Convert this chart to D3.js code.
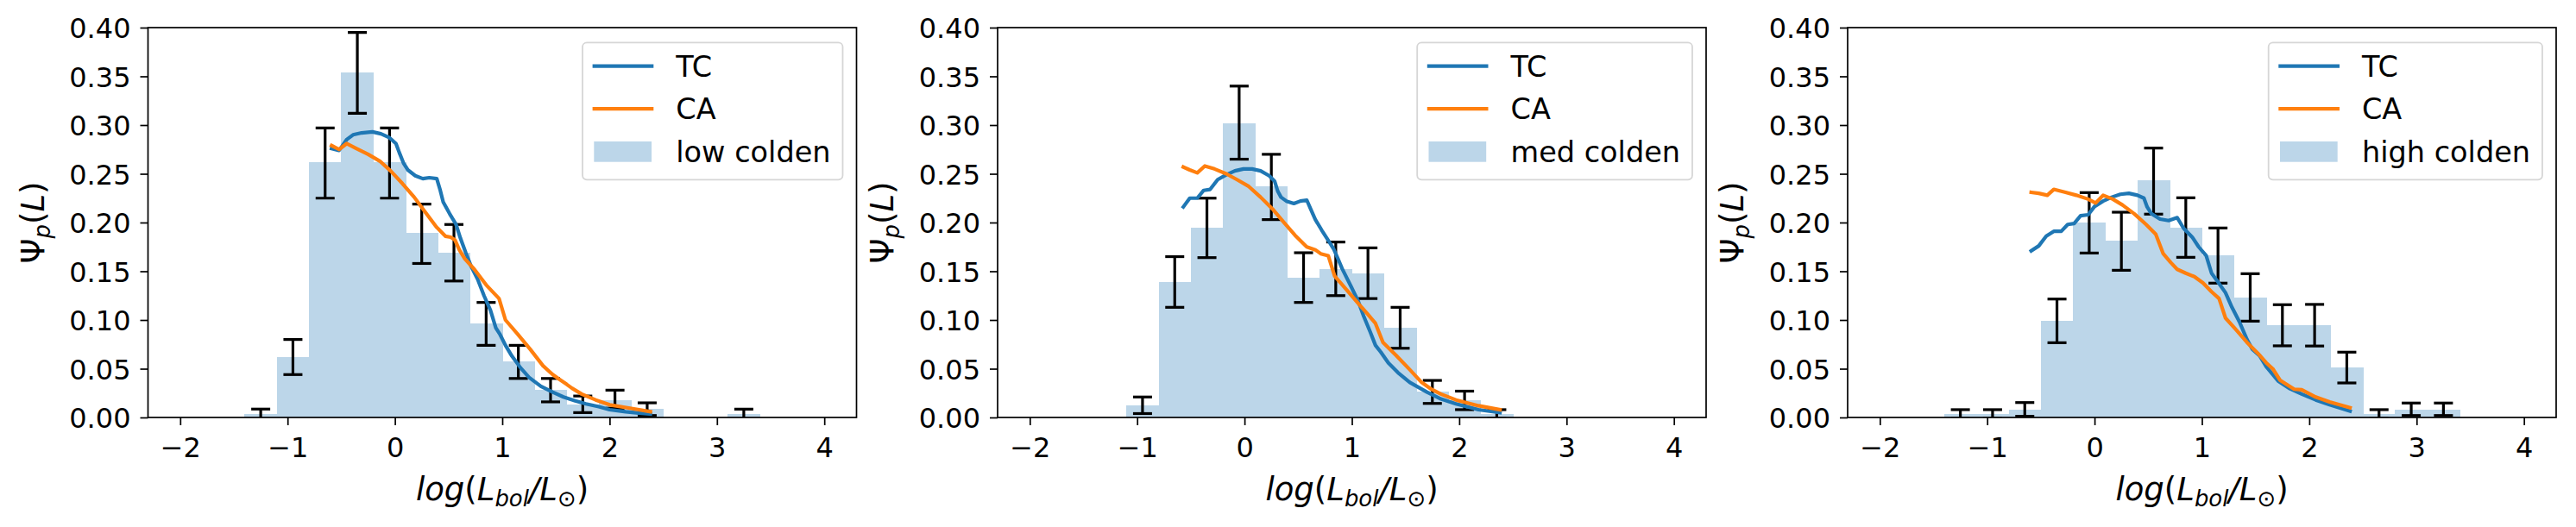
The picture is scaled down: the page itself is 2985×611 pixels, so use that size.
<!DOCTYPE html>
<html><head><meta charset="utf-8">
<script src="https://cdn.jsdelivr.net/npm/d3@7"></script>
<style>
body{margin:0;background:#fff}
svg{display:block}
text{font-family:"DejaVu Sans",sans-serif;fill:#000}
</style>
</head><body>
<svg id="c" width="2985" height="611"></svg>
<script>
// ---------------- DATA ----------------
const binLefts = [-1.4,-1.1,-0.8,-0.5,-0.2,0.1,0.4,0.7,1.0,1.3,1.6,1.9,2.2,2.5,2.8,3.1];
const binWidth = 0.3;
const xTicks = [-2,-1,0,1,2,3,4];
const yTicks = [0.00,0.05,0.10,0.15,0.20,0.25,0.30,0.35,0.40];
const seriesNames = ["TC","CA"];
const panelNames = ["low colden","med colden","high colden"];

// histogram heights
const lowHist  = [0.0035,0.062,0.262,0.354,0.262,0.189,0.169,0.0965,0.0575,0.0285,0.013,0.018,0.0088,0,0,0.0035];
const medHist  = [0,0.0124,0.139,0.195,0.3015,0.237,0.1434,0.1525,0.1475,0.092,0.0265,0.0177,0.0035,0,0,0];
const highHist = [0.0035,0.0035,0.008,0.0994,0.1997,0.1811,0.2431,0.1947,0.1664,0.123,0.095,0.0948,0.0513,0.0035,0.008,0.008];

// error bar lower / upper ends (null = no error bar)
const lowErrLo  = [-0.0016,0.044,0.225,0.312,0.225,0.158,0.140,0.074,0.040,0.016,0.005,0.0095,0.002,null,null,-0.0016];
const lowErrHi  = [0.0086,0.080,0.297,0.395,0.297,0.219,0.198,0.118,0.074,0.040,0.022,0.028,0.015,null,null,0.0086];
const medErrLo  = [null,0.004,0.113,0.164,0.265,0.203,0.118,0.125,0.122,0.071,0.0144,0.008,-0.001,null,null,null];
const medErrHi  = [null,0.021,0.165,0.225,0.340,0.270,0.169,0.180,0.174,0.113,0.038,0.027,0.008,null,null,null];
const highErrLo = [-0.001,-0.001,0.0012,0.0767,0.1687,0.151,0.2086,0.1643,0.1378,0.0988,0.0735,0.0733,0.0354,-0.001,0.002,0.002];
const highErrHi = [0.008,0.008,0.0153,0.1215,0.2307,0.2106,0.2764,0.2254,0.1944,0.1475,0.1157,0.116,0.067,0.008,0.0148,0.0148];

// model curves [logL, Psi]
const lowTC = [[-0.59,0.276],[-0.52,0.274],[-0.45,0.285],[-0.39,0.290],[-0.31,0.292],[-0.21,0.293],[-0.13,0.291],[-0.05,0.287],[0.01,0.281],[0.04,0.272],[0.08,0.261],[0.12,0.254],[0.19,0.248],[0.26,0.245],[0.32,0.246],[0.39,0.245],[0.42,0.234],[0.45,0.221],[0.51,0.209],[0.57,0.198],[0.61,0.184],[0.66,0.169],[0.71,0.155],[0.77,0.142],[0.83,0.125],[0.89,0.110],[0.94,0.092],[0.98,0.085],[1.03,0.074],[1.09,0.063],[1.17,0.051],[1.25,0.041],[1.36,0.032],[1.47,0.026],[1.57,0.021],[1.68,0.017],[1.78,0.014],[1.90,0.011],[2.00,0.008],[2.15,0.0058],[2.27,0.0045],[2.38,0.0035]];
const lowCA = [[-0.59,0.279],[-0.52,0.275],[-0.45,0.281],[-0.36,0.276],[-0.25,0.270],[-0.14,0.263],[-0.04,0.253],[0.07,0.240],[0.18,0.226],[0.28,0.211],[0.39,0.195],[0.47,0.186],[0.52,0.185],[0.56,0.182],[0.60,0.172],[0.65,0.163],[0.74,0.152],[0.85,0.136],[0.97,0.122],[1.03,0.100],[1.14,0.086],[1.26,0.070],[1.38,0.053],[1.47,0.044],[1.52,0.040],[1.60,0.034],[1.65,0.030],[1.74,0.024],[1.87,0.018],[2.00,0.013],[2.19,0.0095],[2.38,0.006]];
const medTC = [[-0.57,0.216],[-0.51,0.225],[-0.44,0.225],[-0.38,0.233],[-0.32,0.234],[-0.25,0.244],[-0.17,0.249],[-0.09,0.253],[-0.01,0.255],[0.07,0.255],[0.15,0.253],[0.23,0.248],[0.28,0.2425],[0.31,0.232],[0.34,0.226],[0.39,0.222],[0.46,0.2195],[0.52,0.222],[0.58,0.223],[0.62,0.213],[0.66,0.203],[0.72,0.192],[0.79,0.180],[0.83,0.173],[0.87,0.163],[0.91,0.1525],[0.99,0.135],[1.06,0.119],[1.11,0.104],[1.17,0.088],[1.22,0.074],[1.27,0.067],[1.34,0.056],[1.43,0.046],[1.54,0.036],[1.70,0.026],[1.83,0.019],[1.97,0.014],[2.18,0.008],[2.38,0.005]];
const medCA = [[-0.57,0.257],[-0.51,0.254],[-0.44,0.251],[-0.37,0.258],[-0.28,0.255],[-0.17,0.250],[-0.07,0.244],[0.04,0.237],[0.15,0.226],[0.26,0.214],[0.36,0.201],[0.47,0.187],[0.58,0.175],[0.66,0.172],[0.71,0.168],[0.78,0.166],[0.84,0.145],[0.95,0.131],[1.06,0.117],[1.14,0.107],[1.22,0.0965],[1.29,0.077],[1.41,0.064],[1.54,0.049],[1.65,0.036],[1.74,0.029],[1.83,0.024],[1.97,0.018],[2.18,0.012],[2.38,0.008]];
const highTC = [[-0.59,0.171],[-0.52,0.176],[-0.45,0.186],[-0.38,0.191],[-0.31,0.191],[-0.25,0.198],[-0.19,0.199],[-0.13,0.207],[-0.06,0.208],[0.00,0.2165],[0.08,0.222],[0.16,0.226],[0.24,0.229],[0.32,0.230],[0.40,0.228],[0.46,0.225],[0.49,0.216],[0.53,0.209],[0.61,0.2035],[0.69,0.202],[0.77,0.205],[0.83,0.194],[0.91,0.185],[0.97,0.175],[1.04,0.166],[1.09,0.148],[1.15,0.139],[1.22,0.128],[1.28,0.113],[1.35,0.098],[1.42,0.080],[1.47,0.070],[1.54,0.063],[1.60,0.052],[1.71,0.0375],[1.82,0.0295],[1.93,0.024],[2.06,0.018],[2.19,0.013],[2.38,0.0065]];
const highCA = [[-0.59,0.231],[-0.52,0.230],[-0.44,0.228],[-0.38,0.234],[-0.27,0.231],[-0.17,0.228],[-0.06,0.224],[0.01,0.220],[0.08,0.228],[0.17,0.224],[0.26,0.218],[0.37,0.209],[0.48,0.198],[0.57,0.188],[0.64,0.168],[0.71,0.159],[0.77,0.152],[0.85,0.148],[0.93,0.1445],[1.01,0.138],[1.09,0.129],[1.16,0.122],[1.22,0.102],[1.31,0.091],[1.42,0.077],[1.52,0.066],[1.60,0.056],[1.66,0.050],[1.73,0.038],[1.86,0.029],[1.93,0.0285],[2.06,0.021],[2.19,0.016],[2.38,0.010]];

// ---------------- LAYOUT ----------------
const panels = [
  {name: panelNames[0], hist: lowHist,  lo: lowErrLo,  hi: lowErrHi,  tc: lowTC,  ca: lowCA},
  {name: panelNames[1], hist: medHist,  lo: medErrLo,  hi: medErrHi,  tc: medTC,  ca: medCA},
  {name: panelNames[2], hist: highHist, lo: highErrLo, hi: highErrHi, tc: highTC, ca: highCA}
];
const panelLefts = [171.5, 1156, 2141];
const W = 821, TOP = 32, BOTTOM = 484;
const colors = {TC: "#1f77b4", CA: "#ff7f0e", bar: "rgb(188,214,233)"};
const tickFont = 32, labelFont = 37, legendFont = 33.5;

const svg = d3.select("#c");

panels.forEach((p, i) => {
  const L = panelLefts[i];
  const x = d3.scaleLinear().domain([-2.3, 4.3]).range([L, L + W]);
  const y = d3.scaleLinear().domain([0, 0.4]).range([BOTTOM, TOP]);
  const g = svg.append("g");
  const clipId = "clip" + i;
  svg.append("clipPath").attr("id", clipId).append("rect")
    .attr("x", L).attr("y", TOP).attr("width", W).attr("height", BOTTOM - TOP);
  const plot = g.append("g").attr("clip-path", `url(#${clipId})`);

  // bars
  plot.selectAll("rect.bar").data(binLefts.map((b, k) => ({b, h: p.hist[k]})).filter(d => d.h > 0))
    .enter().append("rect")
    .attr("x", d => x(d.b)).attr("width", d => x(d.b + binWidth) - x(d.b) + 0.6)
    .attr("y", d => y(d.h)).attr("height", d => y(0) - y(d.h))
    .attr("fill", colors.bar).attr("shape-rendering", "crispEdges");

  // error bars
  const errs = binLefts.map((b, k) => ({c: b + binWidth / 2, lo: p.lo[k], hi: p.hi[k]})).filter(d => d.lo !== null);
  const eg = plot.append("g").attr("stroke", "#000").attr("stroke-width", 3.2).attr("fill", "none");
  errs.forEach(d => {
    const cx = x(d.c);
    eg.append("line").attr("x1", cx).attr("x2", cx).attr("y1", y(d.lo)).attr("y2", y(d.hi));
    eg.append("line").attr("x1", cx - 11).attr("x2", cx + 11).attr("y1", y(d.lo)).attr("y2", y(d.lo));
    eg.append("line").attr("x1", cx - 11).attr("x2", cx + 11).attr("y1", y(d.hi)).attr("y2", y(d.hi));
  });

  // lines
  const line = d3.line().x(d => x(d[0])).y(d => y(d[1]));
  [["TC", p.tc], ["CA", p.ca]].forEach(([n, data]) => {
    plot.append("path").attr("d", line(data)).attr("fill", "none")
      .attr("stroke", colors[n]).attr("stroke-width", 4.2)
      .attr("stroke-linejoin", "round").attr("stroke-linecap", "square");
  });

  // axes
  const xAxis = d3.axisBottom(x).tickValues(xTicks).tickSize(9).tickPadding(12)
    .tickFormat(d => d < 0 ? "\u2212" + Math.abs(d) : String(d));
  const gx = g.append("g").attr("transform", `translate(0,${BOTTOM})`).call(xAxis);
  const yAxis = d3.axisLeft(y).tickValues(yTicks).tickSize(9).tickPadding(11).tickFormat(d3.format(".2f"));
  const gy = g.append("g").attr("transform", `translate(${L},0)`).call(yAxis);
  [gx, gy].forEach(a => {
    a.select(".domain").remove();
    a.selectAll(".tick line").attr("stroke", "#000").attr("stroke-width", 1.7);
    a.selectAll(".tick text").attr("font-size", tickFont).attr("font-family", "DejaVu Sans").attr("fill", "#000");
  });
  gx.selectAll(".tick text").attr("dy", null).attr("y", 46);
  gy.selectAll(".tick text").attr("dy", "0.36em");

  // frame
  g.append("rect").attr("x", L).attr("y", TOP).attr("width", W).attr("height", BOTTOM - TOP)
    .attr("fill", "none").attr("stroke", "#000").attr("stroke-width", 1.7);

  // x label: log(L_bol/L_sun)
  const xl = g.append("text").attr("x", L + W / 2).attr("y", 580)
    .attr("text-anchor", "middle").attr("font-size", labelFont);
  xl.append("tspan").attr("font-style", "italic").text("log");
  xl.append("tspan").text("(");
  xl.append("tspan").attr("font-style", "italic").text("L");
  xl.append("tspan").attr("font-style", "italic").attr("font-size", labelFont * 0.7).attr("dy", 7).text("bol");
  xl.append("tspan").attr("font-style", "italic").attr("dy", -7).text("/L");
  xl.append("tspan").attr("font-size", labelFont * 0.7).attr("dy", 7).text("\u2299");
  xl.append("tspan").attr("dy", -7).text(")");

  // y label: Psi_p(L)
  const yl = g.append("text").attr("transform", `translate(${L - 121},${(TOP + BOTTOM) / 2}) rotate(-90)`)
    .attr("text-anchor", "middle").attr("font-size", labelFont);
  yl.append("tspan").text("\u03A8");
  yl.append("tspan").attr("font-style", "italic").attr("font-size", labelFont * 0.7).attr("dy", 7).text("p");
  yl.append("tspan").attr("dy", -7).text("(");
  yl.append("tspan").attr("font-style", "italic").text("L");
  yl.append("tspan").text(")");

  // legend
  const lg = g.append("g");
  const frame = lg.append("rect");
  const items = [
    {label: seriesNames[0], type: "line", color: colors.TC},
    {label: seriesNames[1], type: "line", color: colors.CA},
    {label: p.name, type: "patch", color: colors.bar}
  ];
  const texts = [];
  items.forEach((it, k) => {
    const t = lg.append("text").attr("font-size", legendFont).attr("y", 39.7 + k * 49.4).text(it.label);
    texts.push(t);
  });
  const maxW = d3.max(texts, t => t.node().getComputedTextLength());
  const boxW = 108.3 + maxW + 14, boxH = 159;
  const bx = L + W - 16 - boxW, by = TOP + 17.3;
  lg.attr("transform", `translate(${bx},${by})`);
  frame.attr("x", 0).attr("y", 0).attr("width", boxW).attr("height", boxH).attr("rx", 5)
    .attr("fill", "#fff").attr("fill-opacity", 0.8).attr("stroke", "#d6d6d6").attr("stroke-width", 1.8);
  texts.forEach(t => t.attr("x", 108.3));
  items.forEach((it, k) => {
    const cy = 27.4 + k * 49.4;
    if (it.type === "line") {
      lg.append("line").attr("x1", 11.6).attr("x2", 82.3).attr("y1", cy).attr("y2", cy)
        .attr("stroke", it.color).attr("stroke-width", 4.2);
    } else {
      lg.append("rect").attr("x", 13.3).attr("y", 114.7).attr("width", 66.7).attr("height", 23.7).attr("fill", it.color);
    }
  });
});
</script>
</body></html>
